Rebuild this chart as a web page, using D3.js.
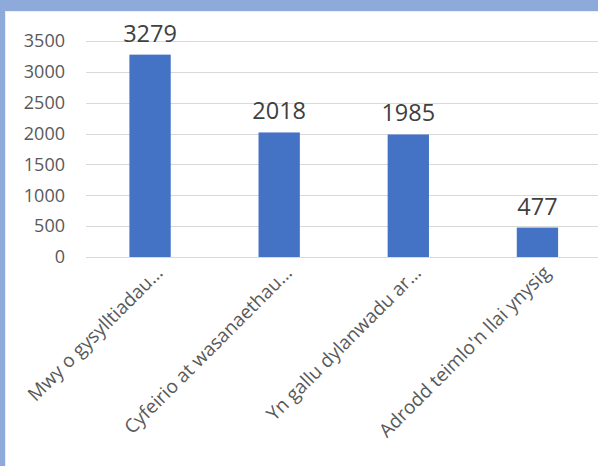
<!DOCTYPE html>
<html>
<head>
<meta charset="utf-8">
<script src="https://d3js.org/d3.v7.min.js"></script>
<style>
  body { margin: 0; background: #fff; }
  svg { display: block; }
</style>
</head>
<body>
<div id="chart"></div>
<script>
// chart data
var categories = ["Mwy o gysylltiadau\u2026", "Cyfeirio at wasanaethau\u2026", "Yn gallu dylanwadu ar\u2026", "Adrodd teimlo'n llai ynysig"];
var values = [3279, 2018, 1985, 477];
var yTicks = [0, 500, 1000, 1500, 2000, 2500, 3000, 3500];

var W = 598, H = 466;
var svg = d3.select("#chart").append("svg")
    .attr("width", W)
    .attr("height", H);

// blue frame round the chart
svg.append("rect").attr("x", 0).attr("y", 0).attr("width", W).attr("height", H).style("fill", "#8eaadb");
svg.append("rect").attr("x", 5).attr("y", 11).attr("width", W - 5).attr("height", H - 11).style("fill", "#e9eef7");
svg.append("rect").attr("x", 6).attr("y", 12).attr("width", W - 6).attr("height", H - 12).style("fill", "#ffffff");

var xScale = d3.scaleBand().domain(categories).range([85.5, 602]).paddingInner(0.68).paddingOuter(0.34);
var yScale = d3.scaleLinear().domain([0, 3500]).range([257, 41]);

// gridlines
svg.append("g").selectAll("line")
    .data(yTicks)
    .enter().append("line")
    .attr("x1", 86).attr("x2", W)
    .attr("y1", function(d) { return Math.round(yScale(d)) + 0.5; })
    .attr("y2", function(d) { return Math.round(yScale(d)) + 0.5; })
    .style("stroke", "#d9d9d9")
    .style("stroke-width", 1);

// y axis labels
var yAxis = svg.append("g")
    .attr("transform", "translate(65,0)")
    .call(d3.axisLeft(yScale).tickValues(yTicks).tickFormat(d3.format("d")).tickSize(0).tickPadding(0));
yAxis.select(".domain").remove();
yAxis.selectAll("text")
    .style("font-family", "'Open Sans', sans-serif")
    .style("font-size", "18px")
    .style("fill", "#595959");

// bars
svg.append("g").selectAll("rect")
    .data(values)
    .enter().append("rect")
    .attr("x", function(d, i) { return xScale(categories[i]); })
    .attr("y", function(d) { return yScale(d); })
    .attr("width", xScale.bandwidth())
    .attr("height", function(d) { return yScale(0) - yScale(d); })
    .style("fill", "#4472c4");

// value labels
svg.append("g").selectAll("text")
    .data(values)
    .enter().append("text")
    .attr("x", function(d, i) { return xScale(categories[i]) + xScale.bandwidth() / 2; })
    .attr("y", function(d) { return yScale(d) - 13; })
    .attr("text-anchor", "middle")
    .style("font-family", "'Open Sans', sans-serif")
    .style("font-size", "23.5px")
    .style("fill", "#404040")
    .text(function(d) { return d; });

// category labels, rotated
svg.append("g").selectAll("text")
    .data(categories)
    .enter().append("text")
    .attr("transform", function(d) {
        var cx = xScale(d) + xScale.bandwidth() / 2;
        return "translate(" + (cx + 14) + ",274) rotate(-45)";
    })
    .attr("text-anchor", "end")
    .style("font-family", "'Open Sans', sans-serif")
    .style("font-size", "19px")
    .style("fill", "#595959")
    .text(function(d) { return d; });
</script>
</body>
</html>
